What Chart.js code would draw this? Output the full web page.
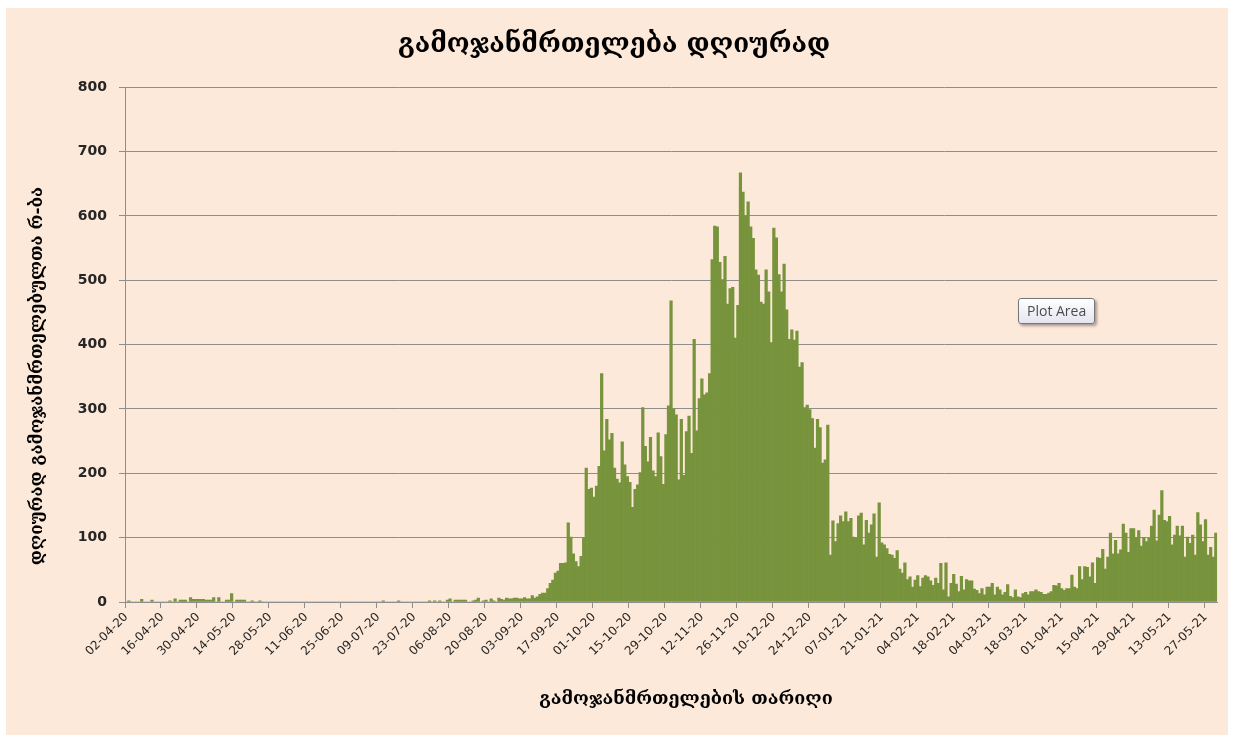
<!DOCTYPE html>
<html>
<head>
<meta charset="utf-8">
<title>გამოჯანმრთელება დღიურად</title>
<script src="https://cdn.jsdelivr.net/npm/chart.js@4.4.1/dist/chart.umd.min.js"></script>
<style>
    body { margin: 0; background: #ffffff; }
    #frame {
        position: absolute;
        left: 6px;
        top: 8px;
        width: 1222px;
        height: 727px;
        background: #fde9d9;
    }
    #tip {
        position: absolute;
        left: 1012px;
        top: 290px;
        padding: 2px 8px 3px 8px;
        border: 1px solid #767676;
        border-radius: 3px;
        background: linear-gradient(#ffffff, #e4e5f0);
        box-shadow: 2px 2px 3px rgba(0, 0, 0, 0.35);
        font: 14px "Open Sans", sans-serif;
        color: #4c4c4c;
    }
</style>
</head>
<body>
<div id="frame">
    <canvas id="recoveryChart" width="1222" height="727"></canvas>
    <div id="tip">Plot Area</div>
</div>
<script>
// Daily recoveries (one value per day, from 02-04-20)
const spring2020 = [
    0, 2, 0, 0, 0, 0, 4, 0, 0, 0, 3, 0, 0, 0, 0, 0, 0, 2, 0, 5,
    0, 3, 3, 3, 0, 7, 4, 4, 4, 4, 4, 3, 3, 3, 7, 0, 7, 0, 0, 3,
    3, 13, 0, 3, 3, 3, 3, 0, 0, 2, 0, 0, 2, 0, 0, 0, 0, 0, 0, 0,
    0, 0, 0, 0, 0, 0, 0, 0, 0, 0, 0, 0, 0, 0, 0, 0, 0, 0, 0, 0,
    0, 0, 0, 0, 0, 0, 0, 0, 0, 0, 0, 0, 0, 0, 0, 0, 0, 0, 0, 0,
    2, 0, 0, 0, 0, 0, 2, 0, 0, 0, 0, 0, 0, 0, 0, 0, 0, 0, 2, 0,
    2, 0, 2, 0, 0, 3, 5, 0, 3, 3, 3, 3, 3, 0, 0, 2, 3, 6, 0, 2,
    3, 0, 5, 2, 0, 6, 4, 3, 6, 5, 5, 6, 6
];
const autumn2020 = [
    5, 5, 7, 5, 5, 10, 6, 8, 12, 14, 14, 21, 29, 34, 45, 48, 60, 60, 61, 123,
    101, 75, 63, 55, 71, 100, 208, 175, 177, 163, 180, 211, 355, 235, 284, 252, 262, 208, 191, 185,
    249, 213, 195, 186, 147, 175, 182, 201, 302, 242, 218, 256, 204, 195, 263, 226, 183, 260, 305, 468,
    300, 291
];
const peak2020 = [
    190, 284, 197, 265, 289, 231, 408, 266, 316, 347,
    322, 325, 355, 532, 584, 583, 528, 501, 537, 463,
    487, 489, 410, 461, 667, 637, 600, 622, 583, 565,
    516, 508, 466, 463, 516, 482, 403, 581, 566, 509,
    482, 525, 454, 408, 423, 407, 421, 365, 372, 302,
    306, 299, 285, 239, 284, 271, 216, 221, 275, 73,
    126, 94, 122, 134, 125, 140, 125, 130, 101, 99,
    134, 138, 89, 127, 107, 120, 137, 70
];
const winter2021 = [
    154, 92, 89, 83, 74, 73, 68, 80, 51, 45,
    61, 35, 39, 23, 34, 41, 24, 37, 41, 39,
    33, 26, 37, 29, 60, 19, 61, 8, 29, 43,
    28, 16, 40, 19, 35, 33, 33, 20
];
const spring2021 = [
    18, 13, 21, 11, 23, 23, 29, 11, 23, 19,
    11, 15, 27, 9, 7, 19, 8, 7, 13, 15,
    11, 16, 16, 19, 16, 15, 12, 12, 14, 16,
    26, 25, 29, 21, 18, 21, 21, 42, 23, 21,
    55, 35, 55, 54, 39, 61, 29, 69, 68, 82,
    51, 70, 107, 75, 96, 75, 81, 121, 107, 77,
    114, 114, 100, 111, 87, 100, 94, 99, 118, 143,
    95, 135, 173, 127, 125, 133, 89, 104, 118, 103,
    118, 70, 101, 91, 104, 73, 139, 120, 94, 128,
    73, 85, 70, 107
];

const recovered = [].concat(spring2020, autumn2020, peak2020, winter2021, spring2021);

const firstDay = new Date(2020, 3, 2);
const labelEvery = 14;
const yTicks = [0, 100, 200, 300, 400, 500, 600, 700, 800];

const chartTitle = 'გამოჯანმრთელება დღიურად';
const xTitle = 'გამოჯანმრთელების თარიღი';
const yTitle = 'დღიურად გამოჯანმრთელებულთა რ-ბა';

// one dd-mm-yy label per day
const days = recovered.map((v, i) => {
    const d = new Date(firstDay.getFullYear(), firstDay.getMonth(), firstDay.getDate() + i);
    const dd = String(d.getDate()).padStart(2, '0');
    const mm = String(d.getMonth() + 1).padStart(2, '0');
    const yy = String(d.getFullYear()).slice(2);
    return `${dd}-${mm}-${yy}`;
});

const axisGrey = '#8e8e8e';
const textColor = '#262626';
const titleFont = '"DejaVu Serif", "DejaVu Sans", serif';

// axis titles sit off-centre in the original, so draw them by hand
const axisTitles = {
    id: 'axisTitles',
    afterDraw(chart) {
        const c = chart.ctx;
        c.save();
        c.fillStyle = '#000000';
        c.textAlign = 'center';
        c.textBaseline = 'middle';
        c.font = `bold 18px ${titleFont}`;
        c.fillText(xTitle, 680, 691);
        c.translate(32, 368);
        c.rotate(-Math.PI / 2);
        c.font = `bold 17px ${titleFont}`;
        c.fillText(yTitle, 0, 0);
        c.restore();
    }
};

const ctx = document.getElementById('recoveryChart').getContext('2d');
new Chart(ctx, {
    type: 'bar',
    data: {
        labels: days,
        datasets: [{
            label: 'გამოჯანმრთელება',
            data: recovered,
            backgroundColor: '#77933c',
            borderWidth: 0,
            barPercentage: 1,
            categoryPercentage: 1
        }]
    },
    options: {
        responsive: false,
        animation: false,
        devicePixelRatio: 1,
        layout: { padding: { left: 0, right: 6, top: 0, bottom: 22 } },
        plugins: {
            legend: { display: false },
            tooltip: { enabled: false },
            title: {
                display: true,
                text: chartTitle,
                color: '#000000',
                font: { family: titleFont, size: 26, weight: 'bold' },
                padding: { top: 22, bottom: 26 }
            }
        },
        scales: {
            x: {
                afterFit: scale => { scale.height = 111; },
                border: { color: axisGrey, width: 1 },
                grid: {
                    drawOnChartArea: false,
                    tickLength: 6,
                    color: c => (c.index % labelEvery === 0 ? axisGrey : 'rgba(0,0,0,0)')
                },
                ticks: {
                    autoSkip: false,
                    minRotation: 45,
                    maxRotation: 45,
                    padding: 2,
                    color: textColor,
                    font: { family: '"DejaVu Sans", sans-serif', size: 12 },
                    callback: function (value, index) {
                        return index % labelEvery === 0 ? this.getLabelForValue(value) : '';
                    }
                }
            },
            y: {
                min: yTicks[0],
                max: yTicks[yTicks.length - 1],
                afterFit: scale => { scale.width = 119; },
                border: { color: axisGrey, width: 1 },
                grid: { color: axisGrey, tickLength: 6 },
                ticks: {
                    stepSize: yTicks[1] - yTicks[0],
                    padding: 12,
                    color: textColor,
                    font: { family: '"DejaVu Sans", sans-serif', size: 14, weight: 'bold' }
                }
            }
        }
    },
    plugins: [axisTitles]
});
</script>
</body>
</html>
